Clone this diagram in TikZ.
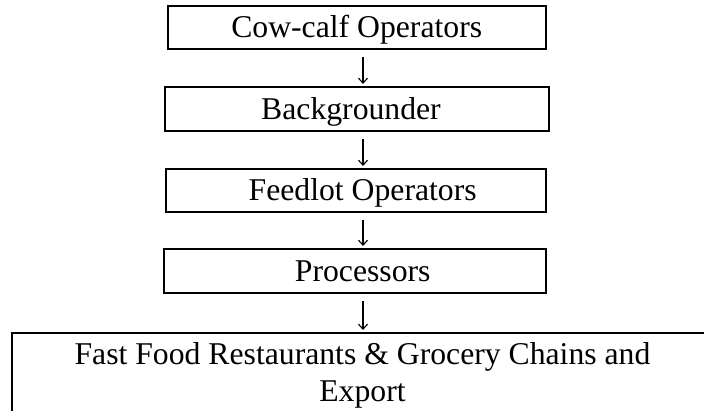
\documentclass[tikz,border=0pt]{standalone}
\usepackage{fontspec}
\setmainfont{Liberation Serif}
\usetikzlibrary{arrows.meta}
\tikzset{
  box/.style={draw, line width=2pt, rectangle, inner sep=0pt},
  lbl/.style={anchor=base, inner sep=0pt, font=\fontsize{31.7pt}{36pt}\selectfont},
  arr/.style={line width=1.1pt, -{Straight Barb[length=5pt,width=9pt,line width=1.1pt]}, shorten <=7pt, shorten >=2pt}
}
\begin{document}
\begin{tikzpicture}[x=1pt,y=-1pt]
\useasboundingbox (0,0) rectangle (704,411);
\clip (0,0) rectangle (704,411);
\fill[white] (0,0) rectangle (704,411);
\node[box, minimum width=378.5pt, minimum height=43pt] (b1) at (356.75,27.5) {};
\node[box, minimum width=384pt, minimum height=44pt] (b2) at (357,109) {};
\node[box, minimum width=380pt, minimum height=43pt] (b3) at (356,190.5) {};
\node[box, minimum width=382pt, minimum height=44pt] (b4) at (355,271) {};
\node[box, minimum width=708pt, minimum height=92pt] (b5) at (366,379) {};
\node[lbl] (t1) at (356.7,38) {Cow-calf Operators};
\node[lbl] (t2) at (351,119.5) {Backgrounder};
\node[lbl] (t3) at (362.7,201) {Feedlot Operators};
\node[lbl] (t4) at (362.7,281.5) {Processors};
\node[lbl] (t5a) at (362.5,365) {Fast Food Restaurants \& Grocery Chains and};
\node[lbl] (t5b) at (362.5,401) {Export};
\coordinate (ax) at (363,0);
\draw[arr] (b1.south -| ax) -- (b2.north -| ax);
\draw[arr] (b2.south -| ax) -- (b3.north -| ax);
\draw[arr] (b3.south -| ax) -- (b4.north -| ax);
\draw[arr] (b4.south -| ax) -- (b5.north -| ax);
\end{tikzpicture}
\end{document}
